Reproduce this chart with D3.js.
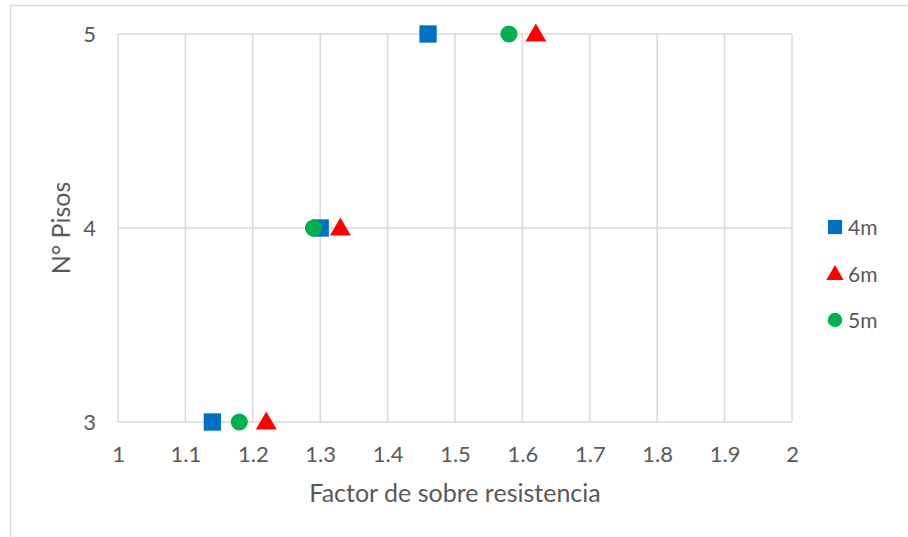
<!DOCTYPE html>
<html>
<head>
<meta charset="utf-8">
<script src="https://cdn.jsdelivr.net/npm/d3@7"></script>
<style>
  html, body { margin: 0; padding: 0; background: #fff; }
  svg { display: block; }
  text { font-family: Lato, "Open Sans", sans-serif; fill: #595959; }
</style>
</head>
<body>
<svg id="chart" width="908" height="537"></svg>
<script>
// Overstrength factor by number of storeys, for three bay spans
const series = ["4m", "6m", "5m"];
const pisos = [3, 4, 5];
const factor4m = [1.14, 1.30, 1.46];
const factor6m = [1.22, 1.33, 1.62];
const factor5m = [1.18, 1.29, 1.58];
const xTicks = [1, 1.1, 1.2, 1.3, 1.4, 1.5, 1.6, 1.7, 1.8, 1.9, 2];
const yTicks = [3, 4, 5];

const colors = { "4m": "#0070c0", "6m": "#ff0000", "5m": "#00b050" };
const shapes = { "4m": d3.symbolSquare, "6m": d3.symbolTriangle, "5m": d3.symbolCircle };
const values = { "4m": factor4m, "6m": factor6m, "5m": factor5m };

const svg = d3.select("#chart");
const plot = { left: 118, right: 792, top: 34, bottom: 422 };

const x = d3.scaleLinear().domain([1, 2]).range([plot.left, plot.right]);
const y = d3.scaleLinear().domain([3, 5]).range([plot.bottom, plot.top]);

// chart area frame (runs past the right and bottom edges)
svg.append("rect")
  .attr("x", 10.5).attr("y", 5.5)
  .attr("width", 920).attr("height", 560)
  .attr("fill", "none").attr("stroke", "#d9d9d9").attr("stroke-width", 1.5);

// gridlines
const grid = svg.append("g").attr("stroke", "#d9d9d9").attr("stroke-width", 1.5);
grid.selectAll("line.v").data(xTicks).join("line")
  .attr("x1", d => x(d)).attr("x2", d => x(d))
  .attr("y1", plot.top).attr("y2", plot.bottom);
grid.selectAll("line.h").data(yTicks).join("line")
  .attr("x1", plot.left).attr("x2", plot.right)
  .attr("y1", d => y(d)).attr("y2", d => y(d));

// x axis tick labels
const xAxis = d3.axisBottom(x).tickValues(xTicks).tickSize(0).tickPadding(0)
  .tickFormat(d => String(+d.toFixed(1)));
svg.append("g").attr("transform", `translate(0,${plot.bottom})`).call(xAxis)
  .call(g => g.select(".domain").remove())
  .selectAll("text")
  .attr("y", 40).attr("dy", null)
  .style("font-size", "22px").style("font-family", "Lato, sans-serif").attr("fill", "#595959");

// y axis tick labels
const yAxis = d3.axisLeft(y).tickValues(yTicks).tickSize(0).tickPadding(0).tickFormat(d3.format("d"));
svg.append("g").attr("transform", `translate(${plot.left},0)`).call(yAxis)
  .call(g => g.select(".domain").remove())
  .selectAll("text")
  .attr("x", -22).attr("dy", "0.36em")
  .style("font-size", "22px").style("font-family", "Lato, sans-serif").attr("fill", "#595959");

// axis titles
svg.append("text")
  .attr("x", (plot.left + plot.right) / 2).attr("y", 502)
  .attr("text-anchor", "middle").style("font-size", "25px")
  .text("Factor de sobre resistencia");
svg.append("text")
  .attr("transform", `translate(70,${(plot.top + plot.bottom) / 2}) rotate(-90)`)
  .attr("text-anchor", "middle").style("font-size", "25px")
  .text("N° Pisos");

// markers: 4m first, then 6m, then 5m on top
const markSize = { "4m": 300, "6m": 190, "5m": 230 };
series.forEach(s => {
  svg.append("g").selectAll("path").data(values[s].map((v, i) => ({ f: v, p: pisos[i] })))
    .join("path")
    .attr("transform", d => `translate(${x(d.f)},${y(d.p) + (s === "6m" ? 1.5 : 0)})`)
    .attr("d", d3.symbol().type(shapes[s]).size(markSize[s]))
    .attr("fill", colors[s]);
});

// legend
const legendY = [227, 274, 320];
const legend = svg.append("g");
series.forEach((s, i) => {
  legend.append("path")
    .attr("transform", `translate(835,${legendY[i] + (s === "6m" ? 1 : 0)})`)
    .attr("d", d3.symbol().type(shapes[s]).size(s === "4m" ? 200 : s === "6m" ? 130 : 165))
    .attr("fill", colors[s]);
  legend.append("text")
    .attr("x", 848).attr("y", legendY[i]).attr("dy", "0.36em")
    .style("font-size", "21px").text(s);
});
</script>
</body>
</html>
